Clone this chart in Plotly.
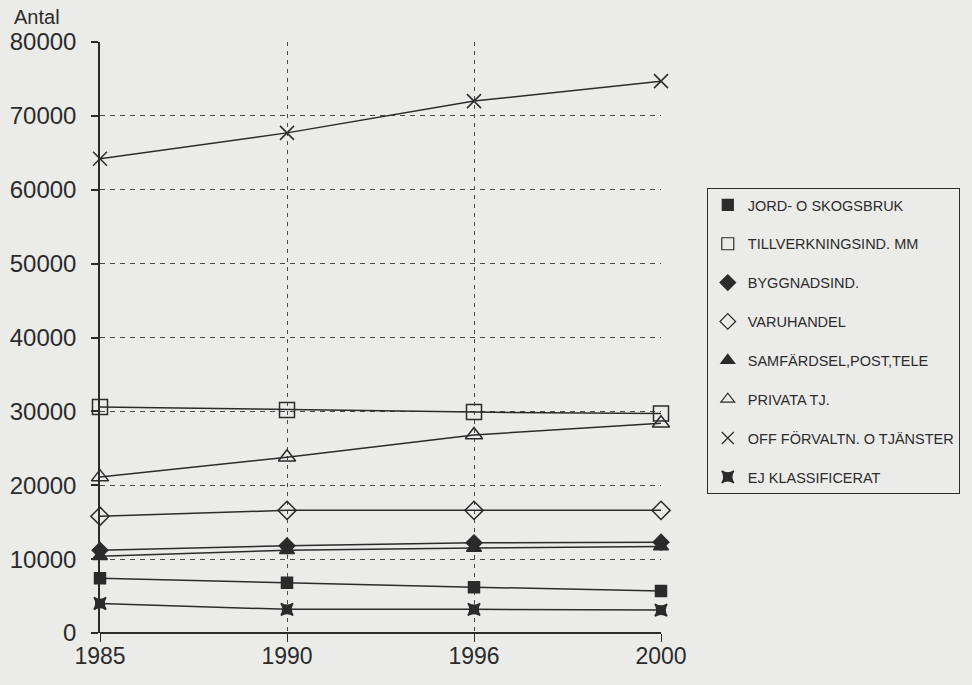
import plotly.graph_objects as go

# Antal sysselsatta per näringsgren
years = ["1985", "1990", "1996", "2000"]

jord_skogsbruk = [7400, 6800, 6200, 5700]
tillverkning = [30600, 30200, 29900, 29700]
byggnad = [11200, 11800, 12200, 12300]
varuhandel = [15800, 16600, 16600, 16600]
samfardsel = [10400, 11200, 11500, 11700]
privata_tj = [21100, 23800, 26800, 28400]
off_forvaltn = [64200, 67700, 72000, 74700]
ej_klass = [4000, 3200, 3200, 3100]

series = [
    ("JORD- O SKOGSBRUK", jord_skogsbruk, "square", 11),
    ("TILLVERKNINGSIND. MM", tillverkning, "square-open", 15),
    ("BYGGNADSIND.", byggnad, "diamond", 12),
    ("VARUHANDEL", varuhandel, "diamond-open", 14),
    ("SAMFÄRDSEL,POST,TELE", samfardsel, "triangle-up", 13),
    ("PRIVATA TJ.", privata_tj, "triangle-up-open", 15),
    ("OFF FÖRVALTN. O TJÄNSTER", off_forvaltn, "x-thin-open", 14),
    ("EJ KLASSIFICERAT", ej_klass, "star-square", 11),
]

ink = "#2b2b2b"
grid_ink = "#4a4a4a"
paper = "#ebebea"
font_family = "Liberation Sans, Arial, sans-serif"

fig = go.Figure()
xi = list(range(len(years)))
for i, (name, vals, sym, size) in enumerate(series):
    # data line with markers
    fig.add_trace(go.Scatter(
        x=xi, y=vals, name=name, mode="lines+markers",
        legendgroup=f"g{i}", showlegend=False,
        line=dict(color=ink, width=1.5),
        marker=dict(symbol=sym, size=size, color=ink,
                    line=dict(color=ink, width=1.5)),
        cliponaxis=False,
    ))
    # marker-only legend entry
    fig.add_trace(go.Scatter(
        x=[None], y=[None], name=name, mode="markers",
        legendgroup=f"g{i}", showlegend=True,
        marker=dict(symbol=sym, size=min(size, 12), color=ink,
                    line=dict(color=ink, width=1.2)),
    ))

fig.update_layout(
    width=972, height=685,
    margin=dict(l=100, r=308, t=42, b=52),
    paper_bgcolor=paper, plot_bgcolor=paper,
    font=dict(family=font_family, color=ink),
    showlegend=True,
    legend=dict(
        x=1.0816, y=0.753, xanchor="left", yanchor="top",
        bgcolor=paper, bordercolor=ink, borderwidth=1,
        font=dict(size=14.5, family=font_family, color=ink),
        tracegroupgap=17, itemsizing="trace", itemwidth=30,
    ),
    xaxis=dict(
        range=[0, 3], tickmode="array", tickvals=xi, ticktext=years,
        showgrid=True, gridcolor=grid_ink, griddash="4px,5px", gridwidth=1,
        showline=False, zeroline=False, automargin=False,
        ticks="outside", ticklen=8, tickcolor=ink, tickwidth=1,
        ticklabelstandoff=-6,
        tickfont=dict(size=23, family=font_family, color=ink),
    ),
    yaxis=dict(
        range=[0, 80000], dtick=10000, tickformat="d",
        showgrid=True, gridcolor=grid_ink, griddash="5px,5px", gridwidth=1,
        showline=True, linecolor=ink, linewidth=1.5,
        zeroline=True, zerolinecolor=ink, zerolinewidth=1.5,
        automargin=False,
        ticks="outside", ticklen=7, tickcolor=ink, tickwidth=1.5,
        ticklabelstandoff=10,
        tickfont=dict(size=24, family=font_family, color=ink),
    ),
    annotations=[dict(
        text="Antal", xref="paper", yref="paper", x=-0.156, y=1.0,
        xanchor="left", yanchor="top", yshift=38, showarrow=False,
        font=dict(size=20, family=font_family, color=ink),
    )],
)

fig.write_html("out.html")
